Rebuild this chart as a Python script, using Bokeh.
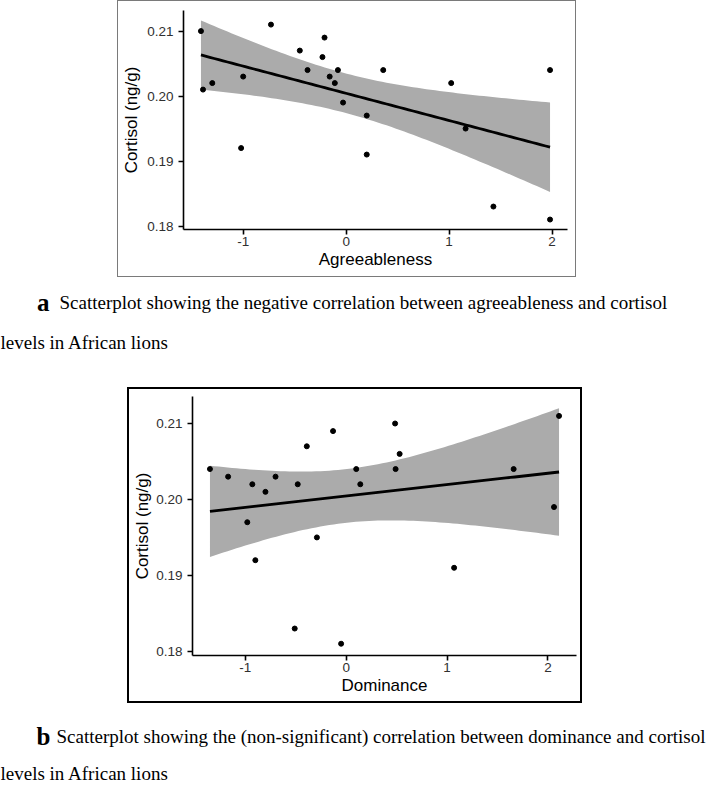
import numpy as np
from bokeh.plotting import figure
from bokeh.models import Range1d, FixedTicker, PrintfTickFormatter
from bokeh.core.properties import value
from bokeh.embed import file_html
from bokeh.resources import INLINE

# ---------------- data ----------------
agree = [-1.41, -1.39, -1.30, -1.02, -1.00, -0.73, -0.45, -0.375, -0.23, -0.21, -0.16,
         -0.11, -0.08, -0.03, 0.20, 0.20, 0.36, 1.02, 1.16, 1.43, 1.98, 1.98]
cort_a = [0.210, 0.201, 0.202, 0.192, 0.203, 0.211, 0.207, 0.204, 0.206, 0.209, 0.203,
          0.202, 0.204, 0.199, 0.197, 0.191, 0.204, 0.202, 0.195, 0.183, 0.181, 0.204]

dom = [-1.35, -1.17, -0.98, -0.93, -0.90, -0.80, -0.70, -0.51, -0.48, -0.39, -0.29,
       -0.13, -0.05, 0.10, 0.14, 0.485, 0.49, 0.53, 1.07, 1.66, 2.06, 2.11]
cort_b = [0.204, 0.203, 0.197, 0.202, 0.192, 0.201, 0.203, 0.183, 0.202, 0.207, 0.195,
          0.209, 0.181, 0.204, 0.202, 0.210, 0.204, 0.206, 0.191, 0.204, 0.199, 0.211]

x_ticks = [-1, 0, 1, 2]
y_ticks = [0.18, 0.19, 0.20, 0.21]

y_title = "Cortisol (ng/g)"
x_title_a = "Agreeableness"
x_title_b = "Dominance"

cap_a_letter = "a"
cap_a_line1 = "Scatterplot showing the negative correlation between agreeableness and cortisol"
cap_a_line2 = "levels in African lions"
cap_b_letter = "b"
cap_b_line1 = "Scatterplot showing the (non-significant) correlation between dominance and cortisol"
cap_b_line2 = "levels in African lions"

T_95_DF20 = 2.086  # t quantile for 95% CI with n-2 = 20

SANS = "Liberation Sans"
SERIF = "Liberation Serif"
W = 711


def lm_band(x, y, n=80):
    x = np.asarray(x, float)
    y = np.asarray(y, float)
    b1, b0 = np.polyfit(x, y, 1)
    res = y - (b0 + b1 * x)
    nobs = len(x)
    s = np.sqrt(np.sum(res ** 2) / (nobs - 2))
    xx = np.linspace(x.min(), x.max(), n)
    yy = b0 + b1 * xx
    se = s * np.sqrt(1.0 / nobs + (xx - x.mean()) ** 2 / np.sum((x - x.mean()) ** 2))
    return xx, yy, yy - T_95_DF20 * se, yy + T_95_DF20 * se


def expand(lo, hi, f=0.05):
    span = hi - lo
    return lo - f * span, hi + f * span


def panel(x, y, xlabel, w, h, mbl, mbr, mbt, mbb, border, margin_left, ylab_standoff):
    xx, yy, lo, hi = lm_band(x, y)
    x0, x1 = expand(min(x), max(x))
    y0, y1 = expand(min(min(y), lo.min()), max(max(y), hi.max()))
    p = figure(width=w, height=h, x_range=Range1d(x0, x1), y_range=Range1d(y0, y1),
               output_backend="svg", toolbar_location=None,
               min_border_left=mbl, min_border_right=mbr,
               min_border_top=mbt, min_border_bottom=mbb)
    p.styles = {"border": border, "margin-left": margin_left}
    p.outline_line_color = None
    p.grid.visible = False
    p.background_fill_color = "white"
    p.border_fill_color = "white"

    p.varea(x=xx, y1=lo, y2=hi, fill_color="#ababab", fill_alpha=1.0)
    p.line(xx, yy, line_color="black", line_width=2.8)
    p.scatter(x, y, size=5, fill_color="black", line_color="black")

    p.xaxis.ticker = FixedTicker(ticks=x_ticks)
    p.yaxis.ticker = FixedTicker(ticks=y_ticks)
    p.xaxis.formatter = PrintfTickFormatter(format="%d")
    p.yaxis.formatter = PrintfTickFormatter(format="%.2f")
    for ax in (p.xaxis[0], p.yaxis[0]):
        ax.axis_line_color = "black"
        ax.axis_line_width = 1.6
        ax.major_tick_line_color = "black"
        ax.major_tick_line_width = 1.6
        ax.major_tick_out = 5
        ax.major_tick_in = 0
        ax.minor_tick_out = 0
        ax.minor_tick_in = 0
        ax.major_label_text_font = SANS
        ax.major_label_text_font_size = "13.5px"
        ax.major_label_text_color = "#303030"
        ax.axis_label_text_font = SANS
        ax.axis_label_text_font_size = "17px"
        ax.axis_label_text_font_style = "normal"
        ax.axis_label_text_color = "black"
    p.xaxis.major_label_standoff = 2
    p.yaxis.major_label_standoff = 5
    p.xaxis.axis_label = xlabel
    p.yaxis.axis_label = y_title
    p.xaxis.axis_label_standoff = 1
    p.yaxis.axis_label_standoff = ylab_standoff
    return p


def caption(h, letter, lx, line1, tx, y1, line2, y2, fs):
    c = figure(width=W, height=h, x_range=Range1d(0, W), y_range=Range1d(h, 0),
               output_backend="svg", toolbar_location=None,
               x_axis_type=None, y_axis_type=None, min_border=0)
    c.outline_line_color = None
    c.grid.visible = False
    c.text(x=[lx], y=[y1], text=[letter], text_font=value(SERIF), text_font_size="25px",
           text_font_style="bold", text_baseline="alphabetic", text_color="black")
    c.text(x=[tx, 0], y=[y1, y2], text=[line1, line2], text_font=value(SERIF),
           text_font_size=fs, text_baseline="alphabetic", text_color="black")
    return c


# panel a: outer box x 117..578, y 0..279 (1px grey border, content-box sizing)
pa = panel(agree, cort_a, x_title_a, 459, 277, 65, 10, 9, 49,
           "1px solid #7a7a7a", "117px", 3)
ca = caption(110, cap_a_letter, 36.5, cap_a_line1, 59, 25, cap_a_line2, 65, "19px")
# panel b: outer box x 127..586, y 389..709 (2px black border)
pb = panel(dom, cort_b, x_title_b, 455, 316, 63, 8, 7, 50,
           "2px solid black", "127px", 1)
cb = caption(80, cap_b_letter, 36, cap_b_line1, 56, 33, cap_b_line2, 70, "19px")

open("out.html", "w").write(file_html([pa, ca, pb, cb], INLINE))
